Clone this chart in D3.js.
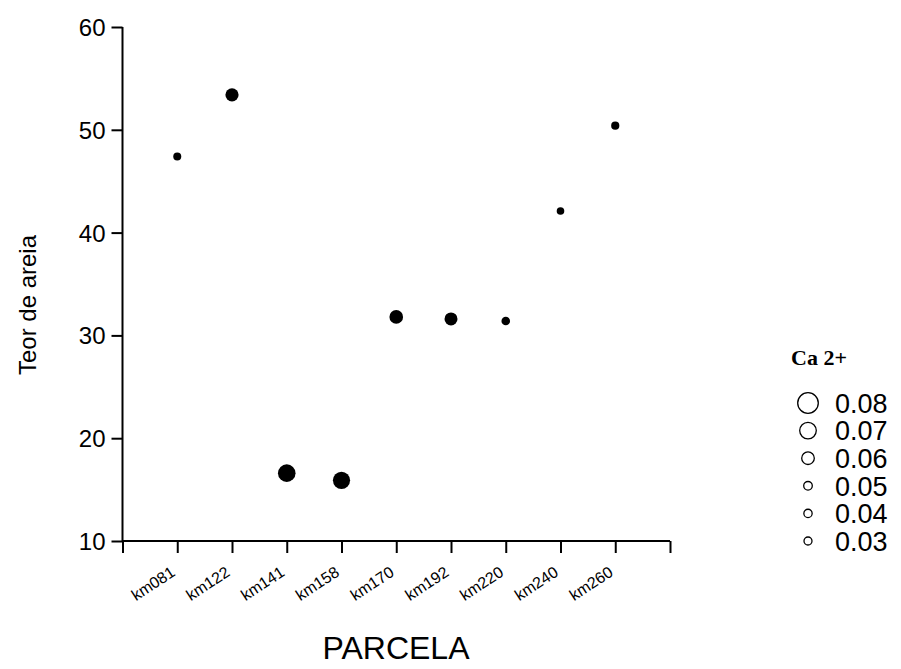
<!DOCTYPE html>
<html>
<head>
<meta charset="utf-8">
<script src="https://cdn.jsdelivr.net/npm/d3@7"></script>
<style>
  html, body { margin: 0; padding: 0; background: #fff; }
  svg { display: block; }
</style>
</head>
<body>
<script>
// ---- data ----
const categories = ["km081","km122","km141","km158","km170","km192","km220","km240","km260"];
const sandValues = [47.4, 53.4, 16.6, 15.9, 31.8, 31.6, 31.4, 42.1, 50.4];
const caValues   = [0.051, 0.064, 0.075, 0.074, 0.065, 0.0635, 0.0525, 0.050, 0.0515];
const yTicks = [10, 20, 30, 40, 50, 60];
const legendValues = [0.08, 0.07, 0.06, 0.05, 0.04, 0.03];

const SANS = "Arial, 'Liberation Sans', sans-serif";
const SERIF = "'Times New Roman', 'Liberation Serif', serif";

const W = 901, H = 669;
const svg = d3.select("body").append("svg").attr("width", W).attr("height", H)
  .style("font-family", SANS);

const x0 = 122.5, x1 = 670, yBottom = 541, yTop = 27;
const x = d3.scaleLinear().domain([0, categories.length + 1]).range([x0, x1]);
const y = d3.scaleLinear().domain([10, 60]).range([yBottom, yTop]);
const r = d3.scaleLinear().domain([0.03, 0.05, 0.08]).range([4, 4.3, 10.3]);

// y axis
const yAxis = d3.axisLeft(y).tickValues(yTicks).tickSize(11).tickPadding(6).tickFormat(d3.format("d"));
const gy = svg.append("g").attr("transform", `translate(${x0},0)`).call(yAxis);
gy.attr("font-family", null).attr("font-size", null);
gy.select(".domain").attr("stroke-width", 2).attr("d", `M0,${yBottom}V${yTop}`);
gy.selectAll(".tick line").attr("stroke-width", 2);
gy.selectAll(".tick text").style("font-size", "24px").style("font-family", SANS).attr("dy", "0.35em");

// x axis
const xTickVals = d3.range(0, categories.length + 2);
const xAxis = d3.axisBottom(x).tickValues(xTickVals).tickSize(12).tickFormat(() => "");
const gx = svg.append("g").attr("transform", `translate(0,${yBottom})`).call(xAxis);
gx.select(".domain").attr("stroke-width", 2).attr("d", `M${x0},0H${x1}`);
gx.selectAll(".tick line").attr("stroke-width", 2);

// rotated category labels
svg.append("g").selectAll("text").data(categories).join("text")
  .attr("transform", (d, i) => `translate(${x(i + 1) - 1},${yBottom + 34}) rotate(-33)`)
  .attr("text-anchor", "end")
  .style("font-size", "16px")
  .text(d => d);

// axis titles
svg.append("text")
  .attr("x", 396).attr("y", 659)
  .attr("text-anchor", "middle").style("font-size", "32px")
  .text("PARCELA");
svg.append("text")
  .attr("transform", `translate(36,${305}) rotate(-90)`)
  .attr("text-anchor", "middle").style("font-size", "24px")
  .text("Teor de areia");

// points
svg.append("g").selectAll("circle").data(categories).join("circle")
  .attr("cx", (d, i) => x(i + 1))
  .attr("cy", (d, i) => y(sandValues[i]))
  .attr("r", (d, i) => r(caValues[i]) - 0.5)
  .attr("fill", "#000");

// legend
const lg = svg.append("g");
lg.append("text").attr("x", 819).attr("y", 365).attr("text-anchor", "middle")
  .style("font-family", SERIF)
  .style("font-weight", "bold").style("font-size", "22px").text("Ca 2+");
const rows = lg.selectAll("g.row").data(legendValues).join("g").attr("class", "row")
  .attr("transform", (d, i) => `translate(0,${403 + i * 27.6})`);
rows.append("circle").attr("cx", 808).attr("cy", 0).attr("r", d => r(d))
  .attr("fill", "none").attr("stroke", "#000").attr("stroke-width", 1.3);
rows.append("text").attr("x", 835).attr("y", 0).attr("dy", "0.36em")
  .style("font-size", "27px").text(d => d3.format(".2f")(d));
</script>
</body>
</html>
